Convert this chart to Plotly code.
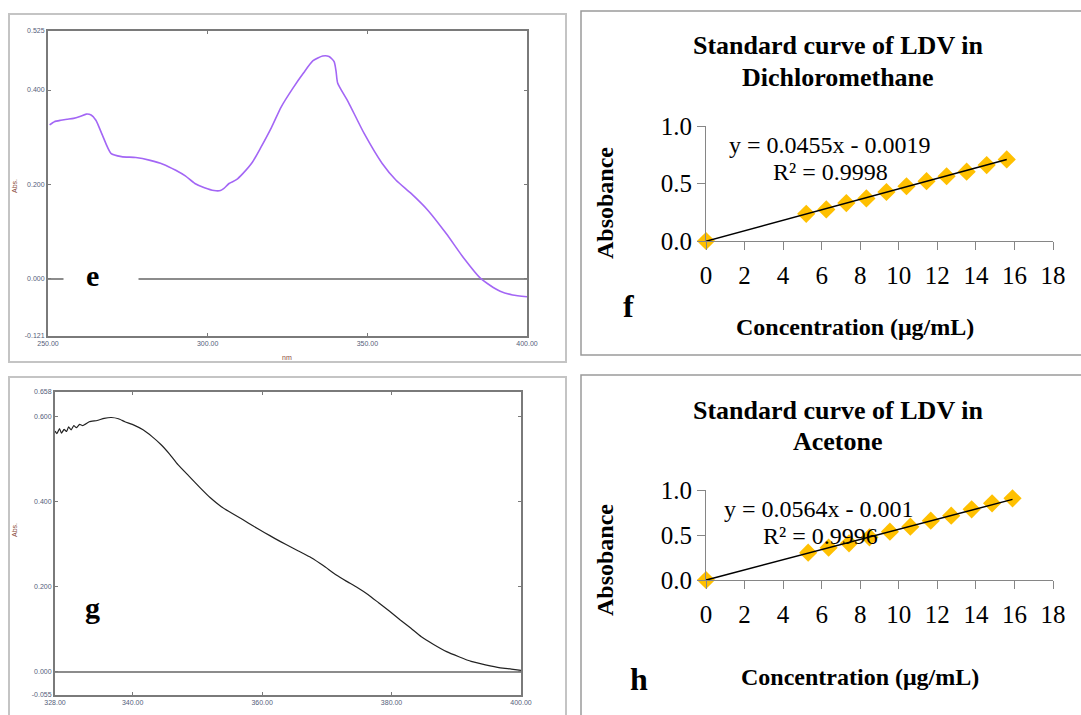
import plotly.graph_objects as go

W, H = 1081, 715
def X(px): return px / W
def Y(py): return 1 - py / H

# ---------------- data ----------------
# Panel e: UV spectrum of LDV in dichloromethane
e_wavelength = [250.5, 252, 254, 256, 258, 260, 262, 263.5, 265, 267, 269.7, 273, 277.5, 282, 286, 290,
                293, 296, 299, 302, 304, 305, 306.7, 309, 311, 314, 316.7, 320, 323, 326.5, 330, 333,
                336, 338, 339.6, 340.2, 340.7, 344, 349, 354.6, 359, 363.7, 369, 374.7, 380.3, 385.3,
                388.5, 391.6, 395.5, 400]
e_absorbance = [0.326, 0.333, 0.336, 0.338, 0.340, 0.344, 0.349, 0.347, 0.336, 0.305, 0.266, 0.259, 0.257,
                0.251, 0.243, 0.230, 0.218, 0.202, 0.193, 0.187, 0.187, 0.191, 0.202, 0.210, 0.223, 0.247,
                0.279, 0.321, 0.364, 0.402, 0.436, 0.462, 0.472, 0.471, 0.460, 0.440, 0.415, 0.375, 0.308,
                0.245, 0.209, 0.181, 0.145, 0.096, 0.043, 0.002, -0.014, -0.026, -0.034, -0.038]
e_xticks = [250, 300, 350, 400]
e_xticktext = ["250.00", "300.00", "350.00", "400.00"]
e_yticks = [-0.121, 0.0, 0.2, 0.4, 0.525]
e_yticktext = ["-0.121", "0.000", "0.200", "0.400", "0.525"]

# Panel g: UV spectrum of LDV in acetone
g_wavelength = [328.0, 328.3, 328.7, 329.0, 329.4, 329.8, 330.1, 330.5, 330.9, 331.3, 331.8, 332.3, 333.3,
                334.5, 335.6, 336.7, 337.8, 338.8, 340.2, 341.6, 343.0, 344.4, 345.7, 347.0, 348.7, 350.4,
                352.0, 353.7, 355.4, 357.0, 358.7, 360.4, 362.0, 363.7, 365.6, 367.6, 369.5, 371.4, 373.0,
                374.7, 376.4, 378.0, 379.7, 381.3, 383.0, 384.6, 386.5, 388.5, 390.4, 392.3, 394.5, 396.8,
                398.5, 400.0]
g_absorbance = [0.566, 0.560, 0.572, 0.561, 0.570, 0.565, 0.576, 0.569, 0.579, 0.574, 0.582, 0.579, 0.588,
                0.591, 0.596, 0.598, 0.595, 0.588, 0.580, 0.569, 0.553, 0.534, 0.512, 0.487, 0.460, 0.433,
                0.409, 0.388, 0.372, 0.358, 0.342, 0.327, 0.313, 0.299, 0.284, 0.268, 0.249, 0.228, 0.213,
                0.198, 0.181, 0.162, 0.142, 0.122, 0.102, 0.082, 0.064, 0.047, 0.035, 0.024, 0.016, 0.009,
                0.006, 0.003]
g_xticks = [328, 340, 360, 380, 400]
g_xticktext = ["328.00", "340.00", "360.00", "380.00", "400.00"]
g_yticks = [-0.055, 0.0, 0.2, 0.4, 0.6, 0.658]
g_yticktext = ["-0.055", "0.000", "0.200", "0.400", "0.600", "0.658"]

# Panel f: standard curve in dichloromethane
f_conc = [0, 5.2, 6.24, 7.28, 8.32, 9.36, 10.4, 11.44, 12.48, 13.52, 14.56, 15.6]
f_abs = [0.0, 0.236, 0.275, 0.330, 0.370, 0.426, 0.476, 0.520, 0.563, 0.603, 0.660, 0.709]
f_slope, f_intercept = 0.0455, -0.0019
f_eq = ["y = 0.0455x - 0.0019", "R² = 0.9998"]

# Panel h: standard curve in acetone
h_conc = [0, 5.3, 6.36, 7.42, 8.48, 9.54, 10.6, 11.66, 12.72, 13.78, 14.84, 15.9]
h_abs = [0.0, 0.304, 0.359, 0.407, 0.474, 0.537, 0.593, 0.659, 0.715, 0.785, 0.852, 0.907]
h_slope, h_intercept = 0.0564, -0.001
h_eq = ["y = 0.0564x - 0.001", "R² = 0.9996"]

std_xticks = list(range(0, 19, 2))
std_yticks = [0.0, 0.5, 1.0]
std_yticktext = ["0.0", "0.5", "1.0"]

# ---------------- figure ----------------
fig = go.Figure()

SERIF = "Liberation Serif"
SANS = "Liberation Sans"
GOLD = "#FFC000"

fig.add_trace(go.Scatter(x=e_wavelength, y=e_absorbance, mode="lines",
                         line=dict(color="#A366F5", width=1.6, shape="spline", smoothing=0.6),
                         xaxis="x", yaxis="y", showlegend=False))
fig.add_trace(go.Scatter(x=g_wavelength, y=g_absorbance, mode="lines",
                         line=dict(color="#222222", width=1.2, shape="spline", smoothing=0.4),
                         xaxis="x3", yaxis="y3", showlegend=False))

for conc, ab, slope, icpt, xa, ya in [(f_conc, f_abs, f_slope, f_intercept, "x2", "y2"),
                                      (h_conc, h_abs, h_slope, h_intercept, "x4", "y4")]:
    xs = [min(conc), max(conc)]
    fig.add_trace(go.Scatter(x=conc, y=ab, mode="markers",
                             marker=dict(symbol="diamond", size=14, color=GOLD),
                             cliponaxis=False, xaxis=xa, yaxis=ya, showlegend=False))
    fig.add_trace(go.Scatter(x=xs, y=[slope * v + icpt for v in xs], mode="lines",
                             line=dict(color="black", width=1.5), cliponaxis=False,
                             xaxis=xa, yaxis=ya, showlegend=False))

spec_axis = dict(showline=True, linecolor="#7a7a7a", linewidth=2, mirror="ticks",
                 ticks="inside", ticklen=3, tickcolor="#7a7a7a", showgrid=False, automargin=False,
                 tickfont=dict(family=SANS, size=7, color="#55607a"))
spec_y = dict(spec_axis, zeroline=True, zerolinecolor="#8c8c8c", zerolinewidth=2)

std_x = dict(range=[0, 18], tickvals=std_xticks, showline=True, linecolor="#868686", linewidth=1,
             ticks="outside", ticklen=8, tickcolor="#868686", showgrid=False, zeroline=False,
             automargin=False, tickfont=dict(family=SERIF, size=25, color="black"),
             ticklabelstandoff=4)
std_y = dict(range=[0, 1], tickvals=std_yticks, ticktext=std_yticktext, showline=True,
             linecolor="#868686", linewidth=1, ticks="outside", ticklen=8, tickcolor="#868686",
             showgrid=False, zeroline=False, automargin=False,
             tickfont=dict(family=SERIF, size=25, color="black"))

fig.update_layout(
    width=W, height=H, margin=dict(l=0, r=0, t=0, b=0, autoexpand=False),
    paper_bgcolor="white", plot_bgcolor="white",
    xaxis=dict(spec_axis, domain=[X(48), X(527)], range=[250, 400], tickvals=e_xticks,
               ticktext=e_xticktext, anchor="y"),
    yaxis=dict(spec_y, domain=[Y(336), Y(31)], range=[-0.121, 0.525], tickvals=e_yticks,
               ticktext=e_yticktext, anchor="x"),
    xaxis3=dict(spec_axis, domain=[X(55), X(521)], range=[328, 400], tickvals=g_xticks,
                ticktext=g_xticktext, anchor="y3"),
    yaxis3=dict(spec_y, domain=[Y(695), Y(392)], range=[-0.055, 0.658], tickvals=g_yticks,
                ticktext=g_yticktext, anchor="x3"),
    xaxis2=dict(std_x, domain=[X(706), X(1053)], anchor="y2"),
    yaxis2=dict(std_y, domain=[Y(241), Y(126)], anchor="x2"),
    xaxis4=dict(std_x, domain=[X(706), X(1053)], anchor="y4"),
    yaxis4=dict(std_y, domain=[Y(580), Y(490)], anchor="x4"),
)

# panel frames
frames = [
    (9, 14, 566, 362, "#c4c4c4", 2),
    (9, 377, 566, 730, "#c4c4c4", 2),
    (581, 11, 1095, 355, "#9a9a9a", 1.5),
    (581, 375, 1095, 730, "#9a9a9a", 1.5),
]
for x0, y0, x1, y1, c, w in frames:
    fig.add_shape(type="rect", xref="paper", yref="paper", x0=X(x0), x1=X(x1), y0=Y(y1), y1=Y(y0),
                  line=dict(color=c, width=w), fillcolor="rgba(0,0,0,0)", layer="below")

ann = []
def A(text, px, py, size, bold=False, family=SERIF, color="black", angle=0, **kw):
    t = f"<b>{text}</b>" if bold else text
    ann.append(dict(text=t, x=X(px), y=Y(py), xref="paper", yref="paper", showarrow=False,
                    xanchor=kw.pop("xanchor", "center"), yanchor=kw.pop("yanchor", "middle"),
                    font=dict(family=family, size=size, color=color), textangle=angle, **kw))

# gap in zero line of panel e, and panel letters
A(" ", 101, 278, 10, width=72, height=10, bgcolor="white")
A("e", 92, 275, 30, bold=True)
A("g", 92, 607, 30, bold=True)
A("f", 628, 306, 32, bold=True)
A("h", 639, 679, 32, bold=True)

# spectrum axis labels
A("Abs.", 14, 186, 7, family=SANS, color="#8a4a3a", angle=-90)
A("nm", 287, 357, 7, family=SANS, color="#8a4a3a")
A("Abs.", 14, 530, 7, family=SANS, color="#8a4a3a", angle=-90)

# standard curve titles and labels
A("Standard curve of LDV in", 838, 46, 26, bold=True)
A("Dichloromethane", 838, 77, 26, bold=True)
A("Standard curve of LDV in", 838, 410, 26, bold=True)
A("Acetone", 838, 441, 26, bold=True)
A("Absobance", 605, 203, 24, bold=True, angle=-90)
A("Absobance", 605, 560, 24, bold=True, angle=-90)
A("Concentration (μg/mL)", 855, 327, 24, bold=True)
A("Concentration (μg/mL)", 860, 677, 24, bold=True)
A(f_eq[0], 830, 145, 24)
A(f_eq[1], 830, 172, 24)
A(h_eq[0], 819, 509, 24)
A(h_eq[1], 820, 536, 24)

fig.update_layout(annotations=ann)
fig.write_html("out.html")
